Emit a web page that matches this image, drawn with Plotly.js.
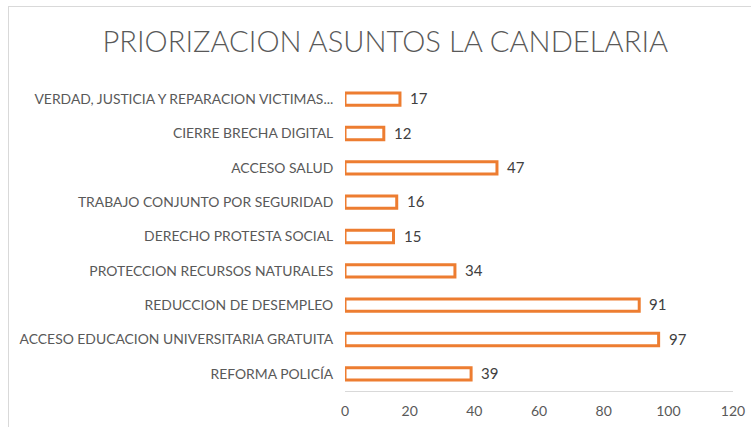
<!DOCTYPE html>
<html>
<head>
<meta charset="utf-8">
<script src="https://cdn.plot.ly/plotly-3.0.1.min.js"></script>
<style>
html,body{margin:0;padding:0;background:#fff;}
#wrap{position:relative;width:751px;height:427px;overflow:hidden;}
#chart{width:751px;height:427px;}
#frame{position:absolute;left:8px;top:6px;width:760px;height:440px;border-left:1.5px solid #d9d9d9;border-top:1.5px solid #d9d9d9;pointer-events:none;}
</style>
</head>
<body>
<div id="wrap"><div id="chart"></div><div id="frame"></div></div>
<script>
const categories = [
  "VERDAD, JUSTICIA Y REPARACION VICTIMAS...",
  "CIERRE BRECHA DIGITAL",
  "ACCESO SALUD",
  "TRABAJO CONJUNTO POR SEGURIDAD",
  "DERECHO PROTESTA SOCIAL",
  "PROTECCION RECURSOS NATURALES",
  "REDUCCION DE DESEMPLEO",
  "ACCESO EDUCACION UNIVERSITARIA GRATUITA",
  "REFORMA POLICÍA"
];
const values = [17, 12, 47, 16, 15, 34, 91, 97, 39];
const xTicks = [0, 20, 40, 60, 80, 100, 120];
const chartTitle = "PRIORIZACION ASUNTOS LA CANDELARIA";

const font = "Lato, 'Open Sans', sans-serif";

const labels = categories.map((c, i) => ({
  x: values[i], y: c, xref: 'x', yref: 'y', text: String(values[i]),
  showarrow: false, xanchor: 'left', yanchor: 'middle', xshift: 8, yshift: 1,
  font: {family: font, size: 15, color: '#404040'}
}));

Plotly.newPlot('chart', [{
  type: 'bar',
  orientation: 'h',
  y: categories,
  x: values,
  width: 0.36,
  marker: {color: '#ffffff', line: {color: '#ED7D31', width: 3}},
  hoverinfo: 'none'
}], {
  width: 751, height: 427,
  margin: {l: 345, r: 18, t: 82, b: 36, pad: 0},
  paper_bgcolor: '#ffffff', plot_bgcolor: '#ffffff',
  showlegend: false,
  annotations: labels,
  title: {text: chartTitle, x: 0.513, xanchor: 'center', y: 0.902, yanchor: 'middle',
          font: {family: font, size: 29.2, weight: 300, color: '#595959'}},
  xaxis: {range: [0, 120], tickvals: xTicks, ticktext: xTicks.map(String),
          showgrid: false, zeroline: false, showline: true, linecolor: '#d9d9d9', linewidth: 1,
          ticks: 'outside', ticklen: 7, tickcolor: 'rgba(0,0,0,0)',
          tickfont: {family: font, size: 14, color: '#595959'}, fixedrange: true},
  yaxis: {autorange: 'reversed', showgrid: false, zeroline: false, showline: false,
          ticks: 'outside', ticklen: 8, tickcolor: 'rgba(0,0,0,0)',
          tickfont: {family: font, size: 13.9, color: '#595959'}, fixedrange: true}
}, {displayModeBar: false, staticPlot: true});
</script>
</body>
</html>
